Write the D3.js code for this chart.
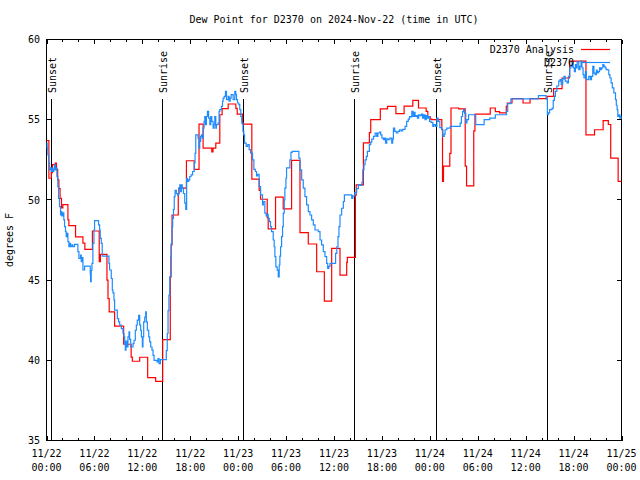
<!DOCTYPE html>
<html><head><meta charset="utf-8">
<script src="https://cdn.jsdelivr.net/npm/d3@7"></script>
<style>
body{margin:0;background:#fff}
text{font-family:"DejaVu Sans Mono",monospace;font-size:10px;fill:#000}
</style>
</head><body>
<svg id="chart" width="640" height="480"></svg>
<script>
// ---- data (hours since 2024-11-22 00:00 UTC, degrees F) ----
const titleText = "Dew Point for D2370 on 2024-Nov-22 (time in UTC)";
const yLabel = "degrees F";
const yTicks = [35, 40, 45, 50, 55, 60];
const seriesNames = ["D2370 Analysis", "D2370"];
const seriesColors = ["#ff0000", "#1e8cff"];
const sunEvents = [["Sunset",0.54],["Sunrise",14.46],["Sunset",24.62],["Sunrise",38.55],["Sunset",48.71],["Sunrise",62.63]];

const analysis = [
[0,53.7],[0.3,51.35],[0.6,51.7],[0.75,52.2],[1.1,52.3],[1.25,51.9],[1.4,51.25],[1.55,50.7],[1.7,50.1],[1.88,49.5],
[2.05,49.7],[2.68,48.75],[2.8,48.4],[3.64,47.7],[4.56,47.3],[4.8,46.92],[5.75,48.06],[6.6,46.15],[6.75,46.6],[7.57,45.0],
[7.7,43.85],[7.85,43.02],[8.53,42.13],[9.66,41.0],[10.6,40.2],[10.75,39.94],[11.67,40.19],[12.67,38.92],[13.67,38.69],[14.55,41.29],
[15.5,45.2],[15.6,47.2],[15.72,49.06],[16.5,50.4],[16.6,50.73],[17.52,52.44],[18.5,51.9],[19.1,54.73],[19.61,53.23],[20.7,53.0],
[20.85,53.23],[21.2,53.54],[21.7,55.31],[21.99,55.69],[22.75,55.98],[23.71,55.7],[23.88,55.35],[24.55,54.73],[25.71,51.3],[26.63,50.6],
[26.8,50.04],[27.64,48.9],[27.76,48.19],[28.68,50.17],[29.64,49.44],[30.69,52.46],[31.74,47.96],[32.78,47.25],[33.83,45.52],[34.79,43.69],
[35.71,46.98],[36.75,45.31],[37.59,46.1],[37.67,46.42],[38.68,50.3],[38.78,50.94],[39.68,53.55],[40.43,54.2],[40.6,55.0],[41.8,55.67],
[42.7,55.83],[43.75,55.375],[44.78,55.85],[45.87,56.21],[46.58,55.73],[47.54,55.52],[47.75,55.2],[48.04,55.04],[48.25,55.0],[49.5,54.4],
[49.59,51.15],[49.71,52.1],[50.5,52.9],[50.65,55.73],[51.6,55.67],[52.43,52.1],[52.6,50.875],[53.5,54.3],[53.65,55.35],[55.57,55.73],
[56.2,55.5],[56.74,55.42],[57.57,55.83],[57.7,56.04],[58.29,56.31],[59.67,56.04],[60.55,56.31],[62.68,56.46],[63.5,56.94],[64.56,57.6],
[65.5,58.65],[67.55,54.06],[68.62,54.375],[69.7,54.94],[70.35,54.7],[70.65,52.6],[71.58,51.15],[72,51.15]
];

const observed = [
[0,53.54],[0.08,53.23],[0.17,52.81],[0.29,52.29],[0.38,51.875],[0.5,52.0],[0.59,51.77],[0.67,51.98],[0.8,51.77],[0.92,51.9],
[1.0,52.19],[1.13,51.875],[1.21,52.0],[1.3,51.46],[1.42,50.83],[1.51,50.1],[1.63,49.58],[1.76,49.06],[1.84,49.27],[1.92,49.0],
[2.05,49.2],[2.17,48.75],[2.26,48.33],[2.38,48.02],[2.47,47.71],[2.59,47.92],[2.68,47.4],[2.8,47.08],[2.89,47.29],[3.01,47.08],
[3.18,47.19],[3.3,47.08],[3.51,47.23],[3.93,46.77],[4.06,46.35],[4.26,46.56],[4.35,46.15],[4.43,46.4],[4.56,45.63],[4.77,45.875],
[5.48,45.375],[5.52,44.9],[5.6,45.6],[5.69,46.04],[5.81,47.29],[5.94,48.125],[6.02,48.71],[6.52,48.44],[6.65,48.125],[6.73,47.6],
[6.86,47.29],[6.98,46.5],[7.82,46.04],[7.9,45.63],[8.11,45.1],[8.24,44.375],[8.32,44.2],[8.45,43.75],[8.53,43.125],[8.87,42.6],
[9.03,42.4],[9.16,42.2],[9.37,41.98],[9.58,41.67],[9.7,41.46],[9.79,41.04],[9.87,40.63],[9.95,41.2],[10.08,40.83],[10.2,41.46],
[10.33,41.77],[10.41,41.3],[10.54,40.83],[10.83,41.04],[10.96,41.25],[11.12,41.875],[11.25,42.2],[11.37,42.5],[11.54,42.81],[11.67,42.2],
[11.79,41.875],[11.88,41.46],[12.0,40.83],[12.08,41.46],[12.17,42.4],[12.3,42.7],[12.42,43.02],[12.5,42.4],[12.63,41.875],[12.8,41.46],
[12.92,41.15],[13.05,40.83],[13.21,40.63],[13.34,40.31],[13.47,40.0],[13.84,39.9],[13.97,40.1],[14.09,39.79],[14.26,40.04],[15.0,40.6],
[15.12,41.67],[15.22,43.1],[15.33,44.06],[15.43,45.2],[15.55,46.5],[15.64,47.3],[15.72,48.33],[15.8,48.85],[15.9,49.4],[16.0,50.2],
[16.1,50.6],[16.26,50.4],[16.4,50.3],[16.55,50.73],[16.69,50.94],[16.8,50.52],[16.9,50.94],[17.0,50.73],[17.15,50.4],[17.31,49.8],
[17.44,49.4],[17.55,51.35],[17.65,51.15],[17.8,51.25],[17.94,51.46],[18.1,51.56],[18.3,51.77],[18.5,52.3],[18.6,52.9],[18.69,54.06],
[18.98,53.85],[19.1,53.23],[19.19,53.65],[19.3,53.96],[19.4,54.06],[19.5,53.85],[19.61,54.48],[19.73,54.9],[19.82,55.2],[19.9,54.69],
[20.02,55.2],[20.15,55.52],[20.3,55.1],[20.45,54.69],[20.57,55.2],[20.7,54.9],[20.86,54.48],[20.98,54.69],[21.07,55.2],[21.2,54.48],
[21.28,54.69],[21.49,54.79],[21.61,55.52],[21.7,55.625],[21.9,55.83],[22.04,56.15],[22.12,56.35],[22.25,56.46],[22.41,56.77],[22.54,56.25],
[22.75,56.46],[22.87,56.15],[23.0,56.35],[23.12,56.56],[23.37,56.25],[23.58,56.77],[23.7,56.56],[23.79,56.25],[23.92,56.04],[24.08,55.94],
[24.2,55.625],[24.33,55.2],[24.45,54.79],[24.6,54.27],[24.7,54.06],[24.8,53.54],[25.0,53.33],[25.2,53.44],[25.38,53.13],[25.55,52.92],
[25.8,52.5],[25.97,51.9],[26.15,51.77],[26.3,51.5],[26.45,51.6],[26.63,50.83],[26.8,50.31],[27.05,49.69],[27.15,49.9],[27.34,49.17],
[27.5,49.0],[27.65,49.1],[27.76,48.85],[27.9,48.65],[28.05,48.33],[28.18,48.02],[28.39,47.5],[28.51,47.08],[28.6,46.46],[28.72,45.83],
[28.89,45.625],[29.02,45.2],[29.14,45.94],[29.22,46.5],[29.31,47.08],[29.44,47.71],[29.56,48.33],[29.65,49.17],[29.77,50.0],[29.85,50.73],
[29.98,51.35],[30.06,52.0],[30.48,52.5],[30.61,52.96],[30.77,53.02],[31.6,52.6],[31.74,51.875],[31.95,51.25],[32.15,50.73],[32.36,50.2],
[32.57,49.69],[32.78,49.27],[32.99,49.06],[33.2,48.75],[33.41,48.44],[33.62,48.125],[34.03,48.02],[34.25,47.5],[34.45,47.19],[34.66,46.77],
[34.87,46.46],[35.08,46.04],[35.21,45.73],[35.35,45.85],[35.5,46.04],[36.2,46.67],[36.35,47.08],[36.5,47.71],[36.62,48.33],[36.75,49.06],
[36.96,49.48],[37.17,49.9],[37.3,50.31],[38.22,50.1],[38.35,50.25],[38.6,50.45],[38.84,50.7],[39.05,50.94],[39.3,50.9],[39.5,51.1],
[39.6,51.875],[39.75,52.19],[39.89,52.5],[40.05,52.71],[40.18,53.02],[40.43,53.44],[40.6,53.6],[40.73,53.79],[40.95,53.96],[41.15,54.17],
[41.35,53.96],[41.5,54.17],[41.69,54.23],[41.85,54.06],[42.0,53.85],[42.19,53.75],[42.3,53.85],[42.45,53.54],[42.61,53.8],[42.8,53.75],
[43.0,53.85],[43.23,53.54],[43.35,53.8],[43.44,54.48],[43.6,54.27],[43.8,54.17],[44.0,54.27],[44.2,54.375],[44.4,54.3],[44.6,54.4],
[44.9,54.58],[45.1,54.9],[45.3,55.04],[45.45,55.2],[45.6,55.17],[45.74,55.52],[45.9,55.2],[46.03,55.46],[46.15,55.2],[46.3,55.25],
[46.45,55.1],[46.6,55.3],[46.78,55.25],[46.95,55.35],[47.1,55.1],[47.25,55.3],[47.4,55.0],[47.55,55.25],[47.7,55.1],[47.85,55.2],
[47.96,54.9],[48.15,54.83],[48.37,54.58],[48.5,54.7],[48.7,54.58],[48.88,55.1],[49.05,54.9],[49.25,54.5],[49.5,54.375],[49.63,53.96],
[49.8,54.1],[49.91,54.375],[50.13,54.48],[50.55,54.58],[51.8,54.79],[51.95,55.2],[52.1,55.5],[52.23,55.625],[52.35,55.4],[52.5,54.8],
[52.65,55.0],[52.85,55.31],[53.75,54.69],[54.8,55.0],[55.5,55.1],[56.2,55.31],[57.6,55.52],[57.75,56.0],[58.15,56.3],[61.6,56.5],
[62.55,56.3],[62.72,55.31],[62.85,55.42],[63.0,55.625],[63.3,55.7],[63.45,56.2],[63.6,56.46],[63.72,56.77],[63.9,57.1],[64.14,57.4],
[64.3,57.5],[64.45,57.2],[64.64,57.54],[64.8,57.7],[64.95,57.4],[65.18,57.29],[65.35,57.7],[65.52,58.23],[65.65,58.33],[65.81,58.54],
[65.95,58.23],[66.1,58.0],[66.23,58.44],[66.35,58.23],[66.45,58.6],[66.65,58.125],[66.8,58.33],[66.94,58.65],[67.05,58.23],[67.19,57.81],
[67.3,57.6],[67.48,58.0],[67.6,57.5],[67.9,57.7],[68.1,57.5],[68.25,57.7],[68.4,58.33],[68.55,57.9],[68.7,57.81],[68.85,58.1],
[68.95,57.92],[69.1,58.0],[69.25,58.23],[69.4,58.125],[69.5,58.23],[69.66,58.44],[69.8,58.33],[69.95,58.23],[70.08,58.125],[70.3,58.1],
[70.41,57.81],[70.55,57.6],[70.7,57.29],[70.85,56.98],[71.04,56.67],[71.25,56.25],[71.35,55.9],[71.45,55.625],[71.54,55.2],[71.65,55.31],
[71.8,55.1],[71.95,55.2],[72,55.2]
];

// ---- drawing ----
const t0 = Date.UTC(2024, 10, 22);
const toDate = h => new Date(t0 + h * 3600e3);
const L = 46.5, R = 621.5, T = 39.5, B = 440.5;

const svg = d3.select("#chart");
svg.append("rect").attr("width",640).attr("height",480).attr("fill","#fff");

const x = d3.scaleUtc().domain([toDate(0), toDate(72)]).range([L, R]);
const y = d3.scaleLinear().domain([35, 60]).range([B, T]);

// title
svg.append("text").attr("x",(L+R)/2).attr("y",23).attr("text-anchor","middle").text(titleText);

// frame
svg.append("rect").attr("x",L).attr("y",T).attr("width",R-L).attr("height",B-T)
  .attr("fill","none").attr("stroke","#000").attr("stroke-width",1);

// x ticks (bottom and top)
const major = x.ticks(d3.utcHour.every(6));
const minor = x.ticks(d3.utcHour.every(2)).filter(d => d.getUTCHours() % 6 !== 0);
const tickG = svg.append("g").attr("stroke","#000").attr("stroke-width",1).attr("shape-rendering","crispEdges");
major.forEach(d => {
  const px = Math.round(x(d)) + 0.5;
  tickG.append("line").attr("x1",px).attr("x2",px).attr("y1",B).attr("y2",B-4.5);
  tickG.append("line").attr("x1",px).attr("x2",px).attr("y1",T).attr("y2",T+4.5);
});
minor.forEach(d => {
  const px = Math.round(x(d)) + 0.5;
  tickG.append("line").attr("x1",px).attr("x2",px).attr("y1",B).attr("y2",B-2.5);
  tickG.append("line").attr("x1",px).attr("x2",px).attr("y1",T).attr("y2",T+2.5);
});
// y ticks left and right
yTicks.forEach(v => {
  const py = y(v);
  tickG.append("line").attr("x1",L).attr("x2",L+4.5).attr("y1",py).attr("y2",py);
  tickG.append("line").attr("x1",R).attr("x2",R-4.5).attr("y1",py).attr("y2",py);
});

// x tick labels
const fmtD = d3.utcFormat("%m/%d"), fmtT = d3.utcFormat("%H:%M");
major.forEach(d => {
  const t = svg.append("text").attr("text-anchor","middle");
  t.append("tspan").attr("x",x(d)).attr("y",457).text(fmtD(d));
  t.append("tspan").attr("x",x(d)).attr("y",471).text(fmtT(d));
});
// y tick labels
yTicks.forEach(v => {
  svg.append("text").attr("x",40).attr("y",y(v)+3.6).attr("text-anchor","end").text(v);
});
// y axis label
svg.append("text").attr("transform","translate(13,240) rotate(-90)").attr("text-anchor","middle").text(yLabel);

// sunrise / sunset markers
sunEvents.forEach(([name,h]) => {
  const px = Math.round(x(toDate(h))) + 0.5;
  svg.append("line").attr("x1",px).attr("x2",px).attr("y1",99).attr("y2",B)
    .attr("stroke","#000").attr("stroke-width",1).attr("shape-rendering","crispEdges");
  svg.append("text").attr("transform",`translate(${px+4.5},93) rotate(-90)`).text(name);
});

// series
const line = d3.line().x(d => x(toDate(d[0]))).y(d => y(d[1])).curve(d3.curveStepAfter);
[analysis, observed].forEach((data,i) => {
  svg.append("path").datum(data).attr("d",line).attr("fill","none")
    .attr("stroke",seriesColors[i]).attr("stroke-width",1.2).attr("stroke-linejoin","miter");
});

// legend
seriesNames.forEach((name,i) => {
  const ly = 49.5 + i*13;
  svg.append("text").attr("x",574).attr("y",ly+3.6).attr("text-anchor","end").text(name);
  svg.append("line").attr("x1",581).attr("x2",610).attr("y1",ly).attr("y2",ly)
    .attr("stroke",seriesColors[i]).attr("stroke-width",1.2);
});
</script>
</body></html>
